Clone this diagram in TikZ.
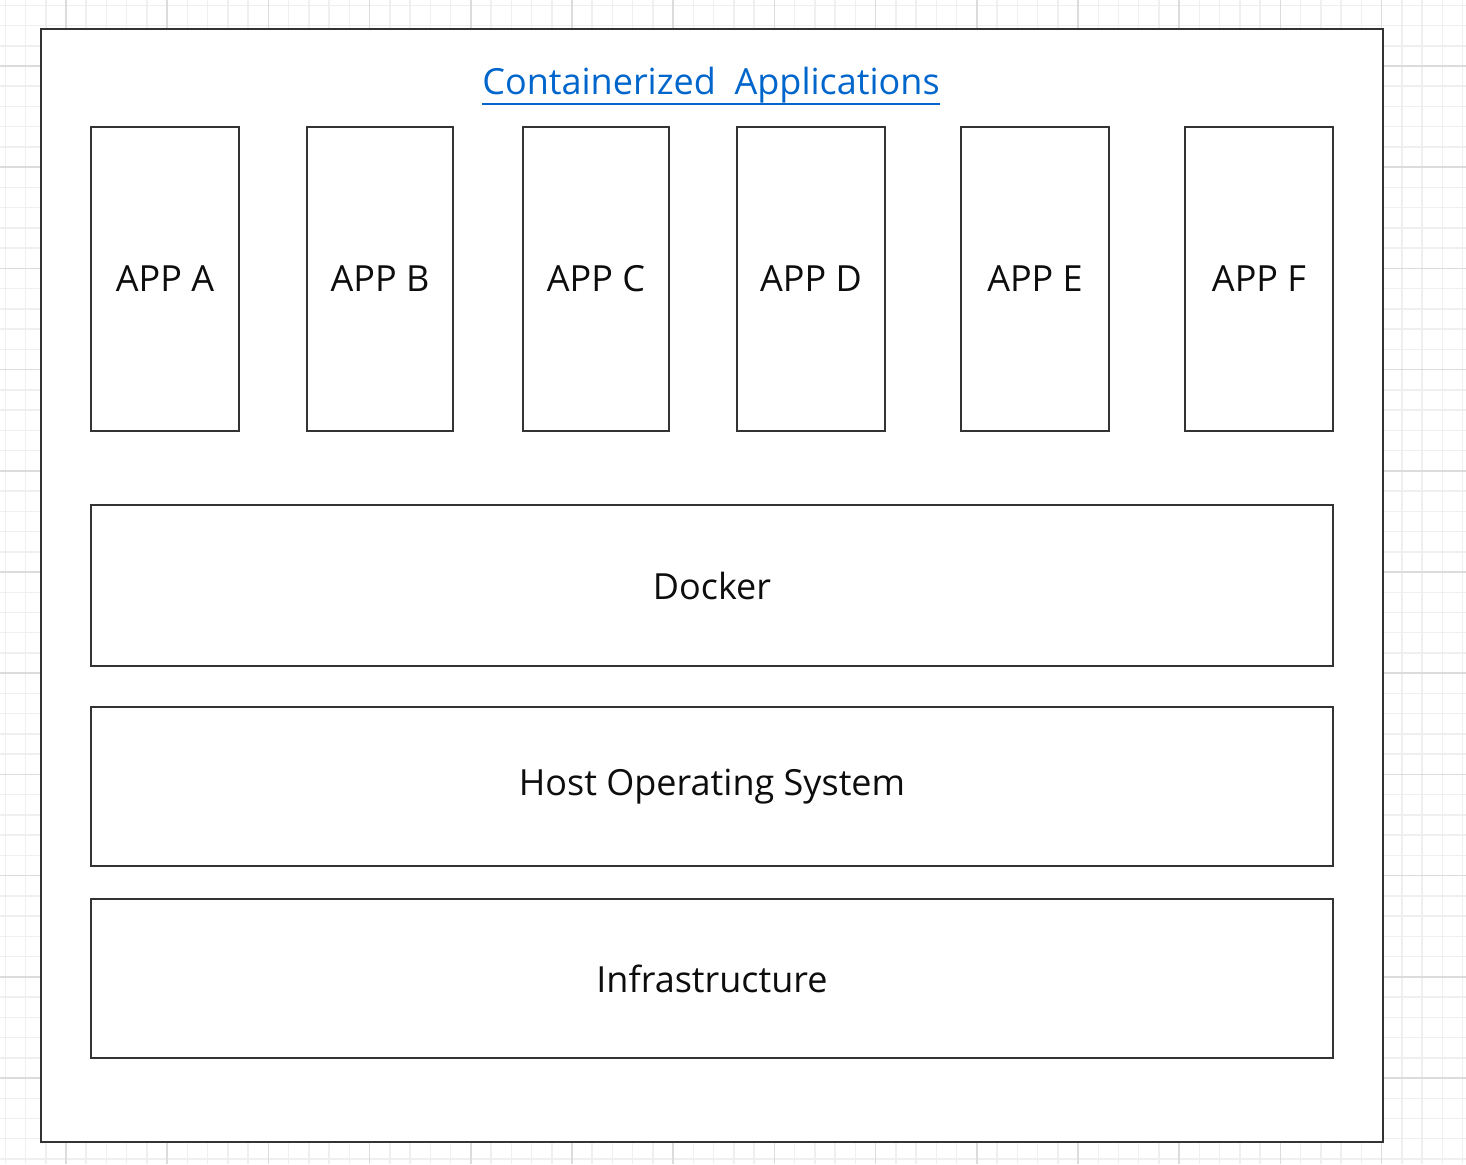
\documentclass[tikz,border=0pt]{standalone}
\usepackage{fontspec}
\setmainfont{Open Sans}
\definecolor{gridminor}{HTML}{EFEFEF}
\definecolor{gridmajor}{HTML}{DCDCDC}
\definecolor{edge}{HTML}{333333}
\definecolor{titleblue}{HTML}{0066CC}
\newcommand\myul[1]{\leavevmode\vtop{\hbox{#1}\kern0.2pt\hrule height 0.9pt}}
\begin{document}
\begin{tikzpicture}[x=0.5pt,y=-0.5pt,
  box/.style={draw=edge,line width=1pt,fill=white,inner sep=0pt},
  lbl/.style={font=\fontsize{18}{22}\selectfont,text=black!95}]
\useasboundingbox (0,0) rectangle (1466,1164);
\fill[white] (0,0) rectangle (1466,1164);
\foreach \i in {0,...,72} {
  \draw[gridminor,line width=0.75pt] ({5.28+20.24*\i},0) -- ({5.28+20.24*\i},1164);
}
\foreach \i in {0,...,57} {
  \draw[gridminor,line width=0.75pt] (0,{5.28+20.24*\i}) -- (1466,{5.28+20.24*\i});
}
\foreach \i in {-1,...,14} {
  \draw[gridmajor,line width=0.75pt] ({66+101.2*\i},0) -- ({66+101.2*\i},1164);
}
\foreach \i in {-1,...,11} {
  \draw[gridmajor,line width=0.75pt] (0,{66+101.2*\i}) -- (1466,{66+101.2*\i});
}
\draw[box] (41,29) rectangle (1383,1142);
\node[box,minimum width=74pt,minimum height=152pt,anchor=north west,lbl] (a) at (90,126) {APP A};
\node[box,minimum width=73pt,minimum height=152pt,anchor=north west,lbl] (b) at (306,126) {APP B};
\node[box,minimum width=73pt,minimum height=152pt,anchor=north west,lbl] (c) at (522,126) {APP C};
\node[box,minimum width=74pt,minimum height=152pt,anchor=north west,lbl] (d) at (736,126) {APP D};
\node[box,minimum width=74pt,minimum height=152pt,anchor=north west,lbl] (e) at (960,126) {APP E};
\node[box,minimum width=74pt,minimum height=152pt,anchor=north west,lbl] (f) at (1184,126) {APP F};
\node[box,minimum width=621pt,minimum height=80.5pt,anchor=north west,lbl] (docker) at (90,504) {Docker};
\node[box,minimum width=621pt,minimum height=79.5pt,anchor=north west,lbl] (host) at (90,706) {Host Operating System};
\node[box,minimum width=621pt,minimum height=79.5pt,anchor=north west,lbl] (infra) at (90,898) {Infrastructure};
\node[lbl,text=titleblue,anchor=base] (title) at (711,94) {\myul{Containerized\ \ Applications}};
\end{tikzpicture}
\end{document}
